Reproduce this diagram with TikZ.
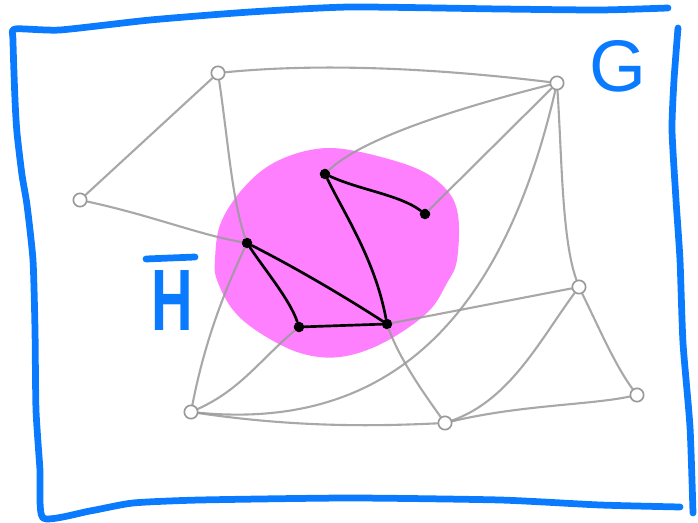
\documentclass[tikz,border=0pt]{standalone}
\usepackage{fontspec}
\setmainfont{Liberation Sans}
\usetikzlibrary{arrows.meta,positioning}
\definecolor{penblue}{HTML}{0A7BFF}
\definecolor{pengray}{HTML}{999999}
\definecolor{blobpink}{HTML}{FF80FF}

\begin{document}
\begin{tikzpicture}[
  x=0.025cm, y=-0.025cm,
  vertex/.style={
    circle,
    draw=pengray,
    line width=1.2pt,
    minimum size=9.5pt,
    inner sep=0pt
  },
  hvertex/.style={
    circle,
    fill=black,
    minimum size=7.5pt,
    inner sep=0pt
  },
  gline/.style={
    draw=pengray,
    draw opacity=0.85,
    line width=1.5pt,
    line cap=round
  },
  hline/.style={
    draw=black,
    line width=1.9pt,
    line cap=round
  },
  penstroke/.style={
    draw=penblue,
    line width=4.8pt,
    line cap=round,
    line join=round
  },
  penlabel/.style={
    text=penblue,
    inner sep=0pt,
    font=\fontsize{52}{52}\selectfont
  }
]
\useasboundingbox (0,0) rectangle (698,523);

\fill[blobpink] plot[smooth cycle, tension=0.6] coordinates {
  (215,260) (220,225) (240,192) (270,165) (310,150) (350,150)
  (413,167) (445,188) (458,215) (457,260) (447,283) (427,313)
  (383,343) (340,357) (300,353) (260,333) (233,310) (217,280)};

\draw[penstroke] plot[smooth, tension=0.35] coordinates {
  (668,8) (600,10) (500,9) (350,7) (250,12) (150,20) (60,30) (15,29)
  (13,40) (15,100) (17,133) (22,175) (27,205) (33,260) (35,330)
  (36,410) (40,470) (43,518) (90,511) (133,503) (200,500) (350,498)
  (500,500) (600,505) (680,507)};
\draw[penstroke] plot[smooth, tension=0.35] coordinates {
  (678,28) (674,80) (672,130) (676,200) (680,260) (683,343) (690,427) (693,513)};

\node[vertex] (a) at (218,73) {};
\node[vertex] (b) at (80,200) {};
\node[vertex] (c) at (557,83) {};
\node[vertex] (d) at (191,412) {};
\node[vertex] (e) at (445,423) {};
\node[vertex] (f) at (579,287) {};
\node[vertex] (g) at (637,395) {};

\node[hvertex] (h1) at (247,243) {};
\node[hvertex] (h2) at (325,174) {};
\node[hvertex] (h3) at (425,214) {};
\node[hvertex] (h4) at (299,327) {};
\node[hvertex] (h5) at (387,324) {};

\node[penlabel] (glabel) at (618,66) {G};
\node[penlabel, xscale=0.66, transform shape, font=\fontsize{62}{62}\selectfont\bfseries] (hlabel) at (172,301) {H};
\draw[penstroke] (146,259) -- (195,257);

\draw[gline] (a) -- (b);
\draw[gline] (a) .. controls (330,62) and (450,70) .. (c);
\draw[gline] (a) .. controls (228,140) and (232,200) .. (h1);
\draw[gline] (b) .. controls (150,215) and (200,235) .. (h1);
\draw[gline] (c) .. controls (450,110) and (360,140) .. (h2);
\draw[gline] (c) -- (h3);
\draw[gline] (c) .. controls (500,330) and (380,430) .. (d);
\draw[gline] (c) .. controls (562,160) and (562,240) .. (f);
\draw[gline] (d) .. controls (205,340) and (225,290) .. (h1);
\draw[gline] (d) .. controls (240,390) and (260,360) .. (h4);
\draw[gline] (d) .. controls (300,428) and (380,426) .. (e);
\draw[gline] (h5) -- (f);
\draw[gline] (h5) .. controls (400,360) and (425,395) .. (e);
\draw[gline] (f) .. controls (600,330) and (615,365) .. (g);
\draw[gline] (e) .. controls (510,400) and (540,340) .. (f);
\draw[gline] (e) .. controls (520,405) and (590,405) .. (g);

\draw[hline] (h1) .. controls (265,270) and (290,300) .. (h4);
\draw[hline] (h1) .. controls (300,270) and (350,300) .. (h5);
\draw[hline] (h4) -- (h5);
\draw[hline] (h2) .. controls (345,215) and (375,260) .. (h5);
\draw[hline] (h2) .. controls (360,190) and (400,195) .. (h3);
\end{tikzpicture}
\end{document}
